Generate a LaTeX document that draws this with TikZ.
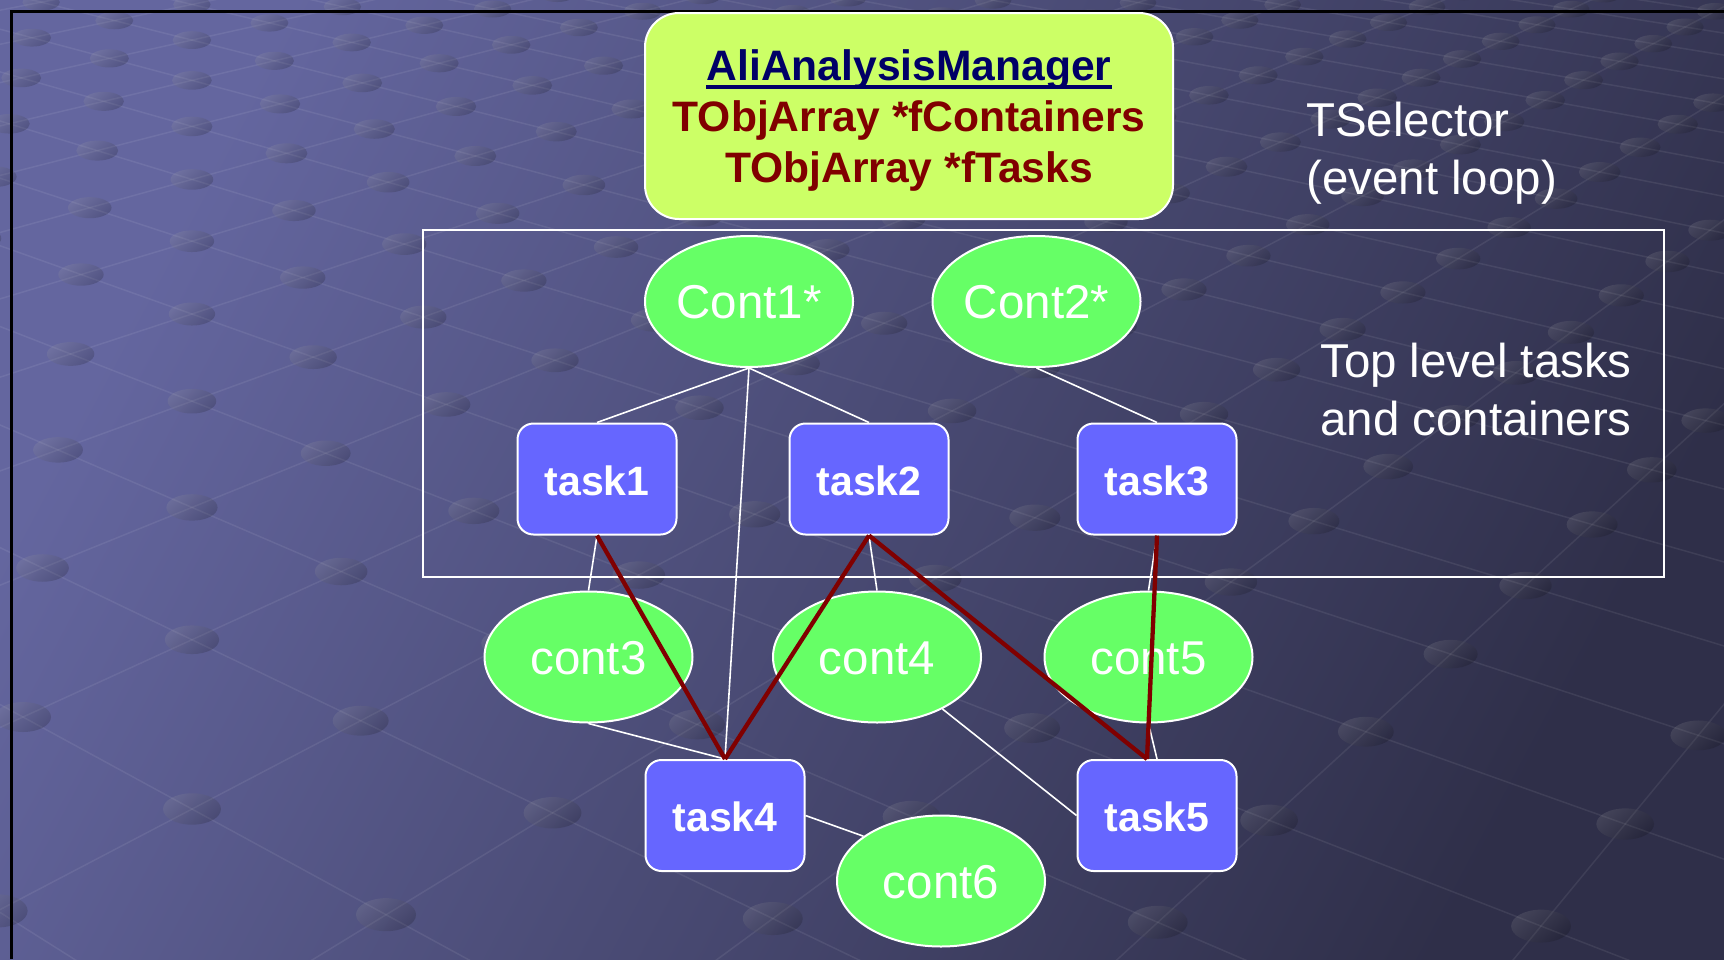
\documentclass[tikz,border=0pt]{standalone}
\usepackage{fontspec}
\setmainfont{Liberation Sans}
\usetikzlibrary{shapes.geometric}

\definecolor{bgTop}{HTML}{64669F}
\definecolor{bgBottom}{HTML}{2F2F49}
\definecolor{mgrfill}{HTML}{CCFF66}
\definecolor{mgrnavy}{HTML}{000066}
\definecolor{mgrred}{HTML}{800000}
\definecolor{contfill}{HTML}{66FF66}
\definecolor{taskfill}{HTML}{6666FF}

\tikzset{
  contnode/.style={ellipse, draw=white, line width=2pt, fill=contfill,
    minimum width=208pt, minimum height=131pt, inner sep=0pt, text=white,
    font=\fontsize{47.5}{50}\selectfont, text height=34pt, text depth=0pt},
  tasknode/.style={rectangle, rounded corners=16pt, draw=white, line width=2pt,
    fill=taskfill, minimum width=159pt, minimum height=111pt, inner sep=0pt,
    text=white, font=\fontsize{41}{45}\selectfont\bfseries,
    text height=32pt, text depth=0pt},
  mgrbox/.style={rectangle, rounded corners=34pt, draw=white, line width=2pt,
    fill=mgrfill, minimum width=528pt, minimum height=206pt, inner sep=0pt},
  mgrtext/.style={inner sep=0pt, anchor=base, font=\fontsize{42.6}{50}\selectfont\bfseries},
  notetext/.style={inner sep=0pt, anchor=base west, text=white,
    font=\fontsize{47.5}{58}\selectfont},
  link/.style={draw=white, line width=1.6pt},
  datalink/.style={draw=mgrred, line width=4.3pt},
  gridline/.style={draw=white, opacity=0.075, line width=1.5pt},
  griddot/.style={top color=black!35, bottom color=black, shading angle=40, opacity=0.17},
}

\begin{document}
\begin{tikzpicture}[x=1pt,y=-1pt]
\useasboundingbox (0,0) rectangle (1724,959);

% slide background with perspective lattice
\shade[top color=bgTop, bottom color=bgBottom, shading angle=62] (0,0) rectangle (1724,959);
\begin{scope}
  \clip (0,0) rectangle (1724,959);
  \foreach \i in {-12,...,7}{
    \pgfmathsetmacro\Da{1-0.06446*\i+0.0664*(-3)}
    \pgfmathsetmacro\Xa{(156.64*\i+181.74*(-3)+23)/\Da}
    \pgfmathsetmacro\Ya{(39.9*\i-34.79*(-3)+717)/\Da}
    \pgfmathsetmacro\Db{1-0.06446*\i+0.0664*24}
    \pgfmathsetmacro\Xb{(156.64*\i+181.74*24+23)/\Db}
    \pgfmathsetmacro\Yb{(39.9*\i-34.79*24+717)/\Db}
    \draw[gridline] (\Xa,\Ya) -- (\Xb,\Yb);
  }
  \foreach \j in {-3,...,24}{
    \pgfmathsetmacro\Da{1-0.06446*(-12)+0.0664*\j}
    \pgfmathsetmacro\Xa{(156.64*(-12)+181.74*\j+23)/\Da}
    \pgfmathsetmacro\Ya{(39.9*(-12)-34.79*\j+717)/\Da}
    \pgfmathsetmacro\Db{1-0.06446*7+0.0664*\j}
    \pgfmathsetmacro\Xb{(156.64*7+181.74*\j+23)/\Db}
    \pgfmathsetmacro\Yb{(39.9*7-34.79*\j+717)/\Db}
    \draw[gridline] (\Xa,\Ya) -- (\Xb,\Yb);
  }
  \foreach \i in {-12,...,7}{
    \foreach \j in {-3,...,24}{
      \pgfmathsetmacro\D{1-0.06446*\i+0.0664*\j}
      \pgfmathsetmacro\X{(156.64*\i+181.74*\j+23)/\D}
      \pgfmathsetmacro\Y{(39.9*\i-34.79*\j+717)/\D}
      \pgfmathtruncatemacro\inview{and(and(\X>-80,\X<1800),and(\Y>-50,\Y<1010))}
      \ifnum\inview=1
        \pgfmathsetmacro\rx{28/sqrt(\D)}
        \pgfmathsetmacro\ry{15/exp(0.7*ln(\D))}
        \shade[griddot] (\X,\Y) ellipse [x radius=\rx, y radius=\ry];
      \fi
    }
  }
\end{scope}

% slide frame
\draw[black, line width=3pt] (11,959) -- (11,11) -- (1724,11);

% analysis manager
\node[mgrbox] (mgr) at (909,116) {};
\node[mgrtext, text=mgrnavy] (mgrName) at (909,80.5) {AliAnalysisManager};
\draw[mgrnavy, line width=3.5pt] ([yshift=-6.5pt]mgrName.base west) -- ([yshift=-6.5pt]mgrName.base east);
\node[mgrtext, text=mgrred] (mgrCont) at (909,131.7) {TObjArray *fContainers};
\node[mgrtext, text=mgrred] (mgrTask) at (909,182.9) {TObjArray *fTasks};

% side notes
\node[notetext] (selA) at (1306,136) {TSelector};
\node[notetext] (selB) at (1306,194) {(event loop)};
\node[notetext] (topA) at (1320,377.5) {Top level tasks};
\node[notetext] (topB) at (1320,435.5) {and containers};

% top level frame
\node[draw=white, line width=2pt, minimum width=1241pt, minimum height=347pt, inner sep=0pt] (toplevel) at (1043.5,403.5) {};

% containers
\node[contnode] (c1) at (749,301.5) {Cont1*};
\node[contnode] (c2) at (1036.5,301.5) {Cont2*};
\node[contnode] (c3) at (588.5,657) {cont3};
\node[contnode] (c4) at (877,657) {cont4};
\node[contnode] (c5) at (1148.5,657) {cont5};
\node[contnode] (c6) at (941,881) {cont6};

% tasks
\node[tasknode] (t1) at (597,479) {task1};
\node[tasknode] (t2) at (869,479) {task2};
\node[tasknode] (t3) at (1157,479) {task3};
\node[tasknode] (t4) at (725,815.5) {task4};
\node[tasknode] (t5) at (1157,815.5) {task5};

% container links
\draw[link] (c1.south) -- (t1.north);
\draw[link] (c1.south) -- (t2.north);
\draw[link] (c1.south) -- (t4.north);
\draw[link] (c2.south) -- (t3.north);
\draw[link] (t1.south) -- (c3.north);
\draw[link] (t2.south) -- (c4.north);
\draw[link] (t3.south) -- (c5.north);
\draw[link] (c3.south) -- (t4.north);
\draw[link] (c4) -- (t5.west);
\draw[link] (c5.south) -- (t5.north);
\draw[link] (t4.east) -- (c6.150);

% task dependencies
\coordinate (t5in) at ([xshift=-10pt]t5.north);
\draw[datalink] (t1.south) -- (t4.north);
\draw[datalink] (t2.south) -- (t4.north);
\draw[datalink] (t2.south) -- (t5in);
\draw[datalink] (t3.south) -- (t5in);
\end{tikzpicture}
\end{document}
